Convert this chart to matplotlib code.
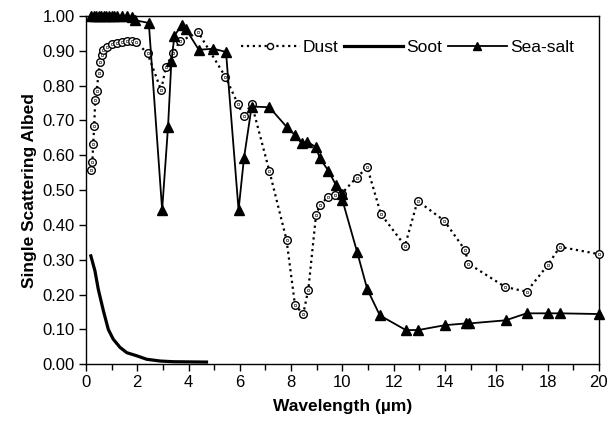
import matplotlib
matplotlib.use("Agg")
import matplotlib.pyplot as plt
from matplotlib.ticker import MultipleLocator, FormatStrFormatter

plt.rcParams['font.family'] = ['Liberation Sans', 'DejaVu Sans']

dust_x = [0.19, 0.25, 0.28, 0.32, 0.36, 0.42, 0.49, 0.55, 0.61, 0.68, 0.81, 1.0, 1.2, 1.4,
          1.6, 1.8, 1.95, 2.4, 2.93, 3.12, 3.4, 3.65, 4.38, 5.44, 5.92, 6.15, 6.46, 7.15,
          7.82, 8.15, 8.47, 8.67, 8.97, 9.12, 9.45, 9.71, 9.97, 10.55, 10.97, 11.5, 12.44,
          12.93, 13.97, 14.78, 14.91, 16.34, 17.18, 18.0, 18.48, 20.0]
dust_y = [0.557, 0.58, 0.632, 0.684, 0.759, 0.785, 0.837, 0.869, 0.888, 0.902, 0.912, 0.919,
          0.922, 0.925, 0.927, 0.927, 0.925, 0.893, 0.787, 0.855, 0.893, 0.927, 0.953, 0.825,
          0.748, 0.712, 0.748, 0.555, 0.357, 0.170, 0.144, 0.214, 0.428, 0.457, 0.481, 0.486,
          0.49, 0.536, 0.565, 0.431, 0.340, 0.469, 0.412, 0.328, 0.289, 0.222, 0.208, 0.284,
          0.337, 0.316]

soot_x = [0.19, 0.35, 0.48, 0.68, 0.87, 1.06, 1.33, 1.59, 1.98, 2.37, 2.89, 3.4, 4.7]
soot_y = [0.311, 0.268, 0.215, 0.153, 0.10, 0.072, 0.048, 0.033, 0.024, 0.014, 0.009, 0.007, 0.006]

salt_x = [0.2, 0.3, 0.4, 0.5, 0.6, 0.7, 0.8, 0.9, 1.0, 1.1, 1.2, 1.4, 1.6, 1.8, 1.91, 2.45,
          2.97, 3.2, 3.33, 3.45, 3.73, 3.9, 4.4, 4.96, 5.46, 5.95, 6.16, 6.46, 7.15, 7.82,
          8.15, 8.41, 8.63, 8.97, 9.12, 9.45, 9.75, 9.97, 10.0, 10.57, 10.97, 11.46, 12.47,
          12.96, 14.0, 14.82, 14.95, 16.37, 17.18, 18.02, 18.48, 20.0]
salt_y = [1.0, 1.0, 1.0, 1.0, 1.0, 1.0, 1.0, 1.0, 1.0, 1.0, 1.0, 1.0, 0.999, 0.997, 0.988,
          0.980, 0.443, 0.682, 0.87, 0.943, 0.975, 0.962, 0.903, 0.906, 0.897, 0.443, 0.591,
          0.740, 0.738, 0.682, 0.658, 0.634, 0.639, 0.623, 0.591, 0.556, 0.514, 0.490, 0.471,
          0.323, 0.215, 0.14, 0.098, 0.098, 0.112, 0.117, 0.117, 0.126, 0.146, 0.146, 0.146,
          0.144]

fig = plt.figure(figsize=(6.08, 4.33), dpi=100)
ax = fig.add_axes([0.1414, 0.159, 0.8436, 0.804])

ax.plot(dust_x, dust_y, linestyle=':', color='black', linewidth=1.6, marker='o',
        markersize=5.5, markerfacecolor='white', markeredgecolor='black',
        markeredgewidth=1.0, label='Dust', clip_on=False, zorder=3)
ax.plot(dust_x, dust_y, linestyle='none', color='black', marker='s', markersize=1.8,
        markeredgewidth=0.4, markerfacecolor='white', markeredgecolor='black',
        clip_on=False, zorder=3.5)
ax.plot(soot_x, soot_y, linestyle='-', color='black', linewidth=2.3, label='Soot', zorder=2)
ax.plot(salt_x, salt_y, linestyle='-', color='black', linewidth=1.3, marker='^',
        markersize=7, markerfacecolor='black', markeredgecolor='black',
        label='Sea-salt', clip_on=False, zorder=4)

ax.set_xlim(0, 20)
ax.set_ylim(0, 1.0)
ax.xaxis.set_major_locator(MultipleLocator(2))
ax.xaxis.set_minor_locator(MultipleLocator(1))
ax.yaxis.set_major_locator(MultipleLocator(0.1))
ax.yaxis.set_major_formatter(FormatStrFormatter('%.2f'))
ax.tick_params(axis='both', which='major', direction='out', length=5, width=1,
               labelsize=12, pad=3)
ax.tick_params(axis='x', which='minor', direction='out', length=4, width=1)
for s in ax.spines.values():
    s.set_linewidth(1.0)
    s.set_color('black')

ax.set_xlabel('Wavelength (µm)', fontsize=12.5, fontweight='bold', labelpad=6)
ax.set_ylabel('Single Scattering Albed', fontsize=12.5, fontweight='bold', labelpad=4)

leg = ax.legend(loc='center right', bbox_to_anchor=(0.965, 0.91), ncol=3, frameon=False,
                fontsize=12.5, handlelength=3.4, columnspacing=0.3, handletextpad=0.2,
                borderaxespad=0, markerscale=0.8)

fig.savefig('out.png', dpi=100)
